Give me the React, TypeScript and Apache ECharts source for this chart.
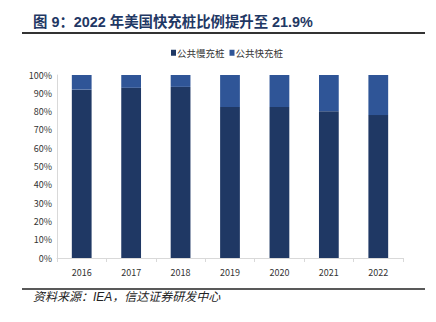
import React, { useEffect, useRef } from "react";
import * as echarts from "echarts";

const years = ["2016", "2017", "2018", "2019", "2020", "2021", "2022"];
const slowShare = [92.0, 93.0, 93.5, 82.5, 82.5, 80.2, 78.1];
const fastShare = [8.0, 7.0, 6.5, 17.5, 17.5, 19.8, 21.9];
const seriesNames = ["公共慢充桩", "公共快充桩"];
const titleText = "图 9：2022 年美国快充桩比例提升至 21.9%";
const sourceText = "资料来源：IEA，信达证券研发中心";

export default function App() {
  const ref = useRef<HTMLDivElement>(null);
  useEffect(() => {
    if (!ref.current) return;
    const chart = echarts.init(ref.current, null, { renderer: "svg" });
    const narrow = "'Liberation Sans Narrow', 'Noto Sans CJK SC', sans-serif";
    chart.setOption({
      animation: false,
      backgroundColor: "#ffffff",
      grid: { left: 57, right: 33, top: 75, bottom: 64 },
      legend: {
        top: 43,
        left: 166,
        itemWidth: 5,
        itemHeight: 6,
        itemGap: 5,
        icon: "rect",
        textStyle: { fontSize: 9.5, color: "#333", fontFamily: "'Noto Sans CJK SC', sans-serif", padding: [0, 0, 0, -4] },
        data: seriesNames,
      },
      xAxis: {
        type: "category",
        data: years,
        axisLine: { lineStyle: { color: "#d9d9d9" } },
        axisTick: { show: true, lineStyle: { color: "#d9d9d9" }, length: 4 },
        axisLabel: { fontSize: 9, color: "#333", margin: 10, fontFamily: narrow },
      },
      yAxis: {
        type: "value",
        min: 0,
        max: 100,
        interval: 10,
        splitLine: { show: false },
        axisLine: { show: true, lineStyle: { color: "#d9d9d9" } },
        axisTick: { show: false },
        axisLabel: { fontSize: 9, color: "#333", margin: 5, fontFamily: narrow, formatter: "{value}%" },
      },
      series: [
        {
          name: seriesNames[0],
          type: "bar",
          stack: "s",
          data: slowShare,
          barWidth: "40%",
          itemStyle: { color: "#1F3864" },
        },
        {
          name: seriesNames[1],
          type: "bar",
          stack: "s",
          data: fastShare,
          barWidth: "40%",
          itemStyle: { color: "#2F5597" },
        },
      ],
      graphic: [
        {
          type: "text",
          left: 33,
          top: 15,
          style: {
            text: titleText,
            fontSize: 14.4,
            fontWeight: "bold",
            fill: "#1F3864",
            fontFamily: "'Liberation Sans', 'Noto Sans CJK SC', sans-serif",
          },
        },
        {
          type: "line",
          shape: { x1: 22, y1: 33, x2: 425, y2: 33 },
          style: { stroke: "#333", lineWidth: 2 },
        },
        {
          type: "line",
          shape: { x1: 22, y1: 289, x2: 425, y2: 289 },
          style: { stroke: "#222", lineWidth: 1.5 },
        },
        {
          type: "text",
          left: 33,
          top: 291,
          style: {
            text: sourceText,
            fontSize: 12,
            fontStyle: "italic",
            fill: "#222",
            fontFamily: "'Liberation Sans', 'Noto Sans CJK SC', sans-serif",
          },
        },
      ],
    });
    return () => chart.dispose();
  }, []);
  return <div ref={ref} style={{ width: 436, height: 322, position: "absolute", left: 0, top: 0 }} />;
}
